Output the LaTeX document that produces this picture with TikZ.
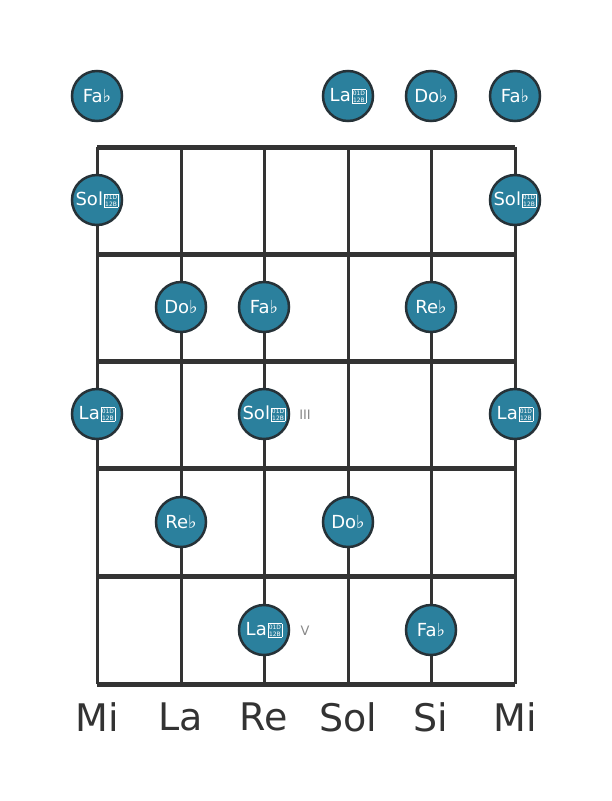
\documentclass[tikz,border=0pt]{standalone}
\usepackage{fontspec}
\setmainfont{DejaVu Sans}
\definecolor{boardline}{HTML}{333333}
\definecolor{notefill}{HTML}{2B809D}
\definecolor{noteedge}{HTML}{263238}
\definecolor{fretmark}{HTML}{888888}
% box as printed for the double flat
\newcommand\dflatbox{\kern0.8pt{\setlength\fboxsep{0.6pt}\setlength\fboxrule{0.6pt}\raisebox{-0.5pt}{\fbox{\fontsize{6}{6}\selectfont\shortstack{01D\\[-0.4pt]12B}}}}}
\newcommand\flatsign{♭}
\tikzset{
  note/.style={draw=noteedge, line width=2.5pt, fill=notefill, circle, minimum size=50pt, inner sep=0pt, text=white, font=\fontsize{18}{18}\selectfont},
  stringname/.style={text=boardline, font=\fontsize{38}{38}\selectfont},
  fretnum/.style={text=fretmark, font=\fontsize{13}{13}\selectfont}
}
\begin{document}
\begin{tikzpicture}[x=1pt, y=-1pt]
    \useasboundingbox (0,0) rectangle (611,801);

    % strings
    \foreach \x [count=\i] in {97,181,264,348,431,515} {
      \coordinate (s\i) at (\x,147);
      \draw[boardline, line width=3pt] (\x,147) -- (\x,684);
    }

    % frets
    \foreach \y [count=\j] in {147,254,361,468,576,684} {
      \draw[boardline, line width=5pt] (97,\y) -- (515,\y);
    }

    % string names
    \foreach \x/\n [count=\i] in {97/Mi,181/La,264/Re,348/Sol,431/Si,515/Mi} {
      \node[stringname] (name\i) at (\x,717) {\n};
    }

    % open strings
    \node[note] (n01) at (97,96) {Fa\flatsign};
    \node[note] (n04) at (348,96) {La\dflatbox};
    \node[note] (n05) at (431,96) {Do\flatsign};
    \node[note] (n06) at (515,96) {Fa\flatsign};

    % fret 1
    \node[note] (n11) at (97,200) {Sol\dflatbox};
    \node[note] (n16) at (515,200) {Sol\dflatbox};

    % fret 2
    \node[note] (n22) at (181,307) {Do\flatsign};
    \node[note] (n23) at (264,307) {Fa\flatsign};
    \node[note] (n25) at (431,307) {Re\flatsign};

    % fret 3
    \node[note] (n31) at (97,414) {La\dflatbox};
    \node[note] (n33) at (264,414) {Sol\dflatbox};
    \node[note] (n36) at (515,414) {La\dflatbox};
    \node[fretnum] (f3) at (305,415) {III};

    % fret 4
    \node[note] (n42) at (181,522) {Re\flatsign};
    \node[note] (n44) at (348,522) {Do\flatsign};

    % fret 5
    \node[note] (n53) at (264,630) {La\dflatbox};
    \node[note] (n55) at (431,630) {Fa\flatsign};
    \node[fretnum] (f5) at (305,631) {V};

  \end{tikzpicture}
\end{document}
